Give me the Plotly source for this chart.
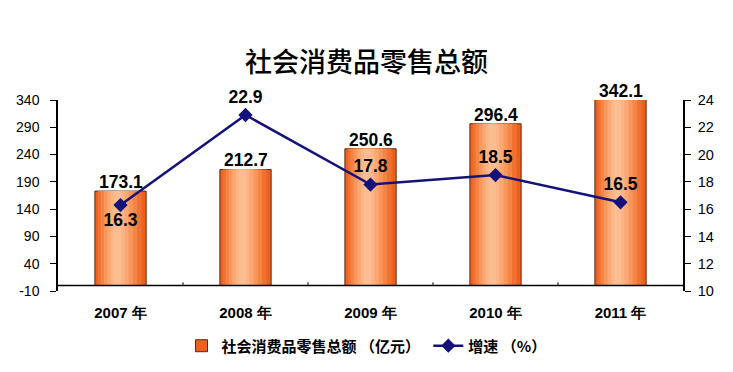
import plotly.graph_objects as go

years = ["2007 年", "2008 年", "2009 年", "2010 年", "2011 年"]
sales = [173.1, 212.7, 250.6, 296.4, 342.1]
growth = [16.3, 22.9, 17.8, 18.5, 16.5]
growth_pos = ["bottom center", "top center", "top center", "top center", "top center"]

left_ticks = [-10, 40, 90, 140, 190, 240, 290, 340]
left_labels = ["-10", "40", "90", "140", "190", "240", "290", "340"]
right_ticks = [10, 12, 14, 16, 18, 20, 22, 24]

NUM_FONT = "Liberation Sans, Arial, sans-serif"
CJK_FONT = "Noto Sans CJK SC, sans-serif"

fig = go.Figure()

# gradient bars emulated by overlaid layers (outer dark -> inner light)
layers = [
    (0.41, -0.205, "#EC6120"),
    (0.35, -0.182, "#F17230"),
    (0.29, -0.158, "#F58544"),
    (0.23, -0.132, "#F8975C"),
    (0.17, -0.105, "#FAA772"),
    (0.11, -0.078, "#FBB485"),
    (0.06, -0.055, "#FCBD92"),
]
for i, (w, off, col) in enumerate(layers):
    fig.add_trace(go.Bar(
        x=years, y=sales,
        width=w, offset=off,
        marker=dict(color=col,
                    line=dict(color="#5a2a10" if i == 0 else col, width=1 if i == 0 else 0)),
        name="社会消费品零售总额 （亿元） ",
        showlegend=(i == 0),
        hoverinfo="skip" if i else None,
        yaxis="y",
    ))

# bar value labels (anchor kept inside the axis range so it stays visible)
ymax = left_ticks[-1]
for xv, v in zip(years, sales):
    fig.add_annotation(x=xv, y=min(v, ymax), xref="x", yref="y", text=f"<b>{v:.1f}</b>",
                       showarrow=False, yanchor="bottom", yshift=-3,
                       font=dict(family=NUM_FONT, size=17.5, color="black"))

fig.add_trace(go.Scatter(
    x=years, y=growth,
    mode="lines+markers+text",
    name="增速 （%）",
    line=dict(color="#14127A", width=2.5),
    marker=dict(symbol="diamond", size=11, color="#14127A"),
    text=[f"{v:.1f}" for v in growth],
    textposition=growth_pos,
    textfont=dict(family=NUM_FONT, size=17.5, color="black", weight="bold"),
    cliponaxis=False,
    yaxis="y2",
))

# category axis crossing at 0
fig.add_shape(type="line", xref="paper", yref="y", x0=0, x1=1, y0=0, y1=0,
              line=dict(color="black", width=1.5))
for k in range(1, len(years)):
    fig.add_shape(type="line", xref="x", yref="y", x0=k - 0.5, x1=k - 0.5, y0=0, y1=6,
                  line=dict(color="black", width=1))

fig.update_layout(
    width=733, height=372,
    margin=dict(l=58, r=50, t=100, b=81, autoexpand=False),
    paper_bgcolor="white", plot_bgcolor="white",
    barmode="overlay",
    title=dict(text="社会消费品零售总额", x=0.5, xanchor="center",
               y=0.833, yref="container", yanchor="middle",
               font=dict(family=CJK_FONT, size=27, color="black", weight=500)),
    xaxis=dict(showline=False, ticks="", showgrid=False, zeroline=False,
               tickfont=dict(family=NUM_FONT, size=15, color="black", weight="bold"),
               ticklabelstandoff=11, range=[-0.5, 4.5]),
    yaxis=dict(range=[-10, 340], tickvals=left_ticks, ticktext=left_labels,
               showgrid=False, zeroline=False,
               showline=True, linecolor="black", linewidth=1.5,
               ticks="outside", ticklen=6, tickcolor="black",
               tickfont=dict(family=NUM_FONT, size=14, color="black"),
               ticklabelstandoff=8),
    yaxis2=dict(range=[10, 24], tickvals=right_ticks, overlaying="y", side="right",
                showgrid=False, zeroline=False,
                showline=True, linecolor="black", linewidth=1.5,
                ticks="outside", ticklen=6, tickcolor="black",
                tickfont=dict(family=NUM_FONT, size=14.5, color="black"),
                ticklabelstandoff=4),
    legend=dict(orientation="h", x=0.5, xanchor="center", xref="container",
                y=0.07, yref="container", yanchor="middle",
                font=dict(family=CJK_FONT, size=15, color="black", weight="bold"),
                itemwidth=30, traceorder="normal"),
    showlegend=True,
)

fig.write_html("out.html", config={"displayModeBar": False},
               post_script="document.body.style.margin='0';")
